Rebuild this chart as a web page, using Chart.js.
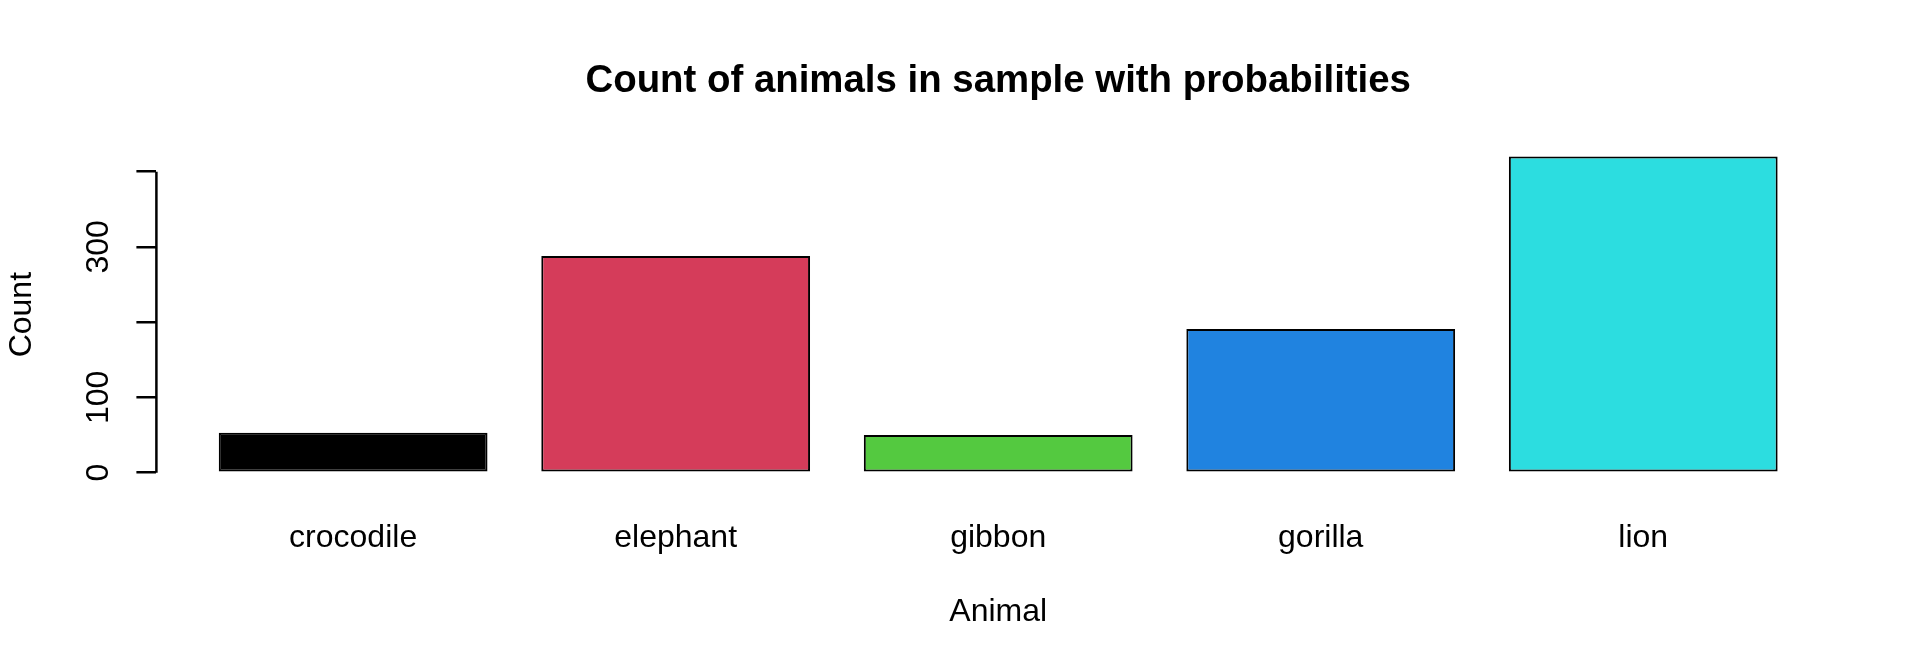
<!DOCTYPE html>
<html>
<head>
<meta charset="utf-8">
<script src="https://cdn.jsdelivr.net/npm/chart.js@4/dist/chart.umd.min.js"></script>
<style>
html,body{margin:0;padding:0;background:#ffffff;overflow:hidden}
canvas{display:block}
</style>
</head>
<body>
<canvas id="c" width="1920" height="672"></canvas>
<script>
// ---- data ----
const categories = ['crocodile', 'elephant', 'gibbon', 'gorilla', 'lion'];
const counts = [53, 288, 50, 191, 420];
const barColors = ['#000000', '#D53C5A', '#54C940', '#2083E0', '#2CDDE0'];
const yTicks = [0, 100, 200, 300, 400];
const yTickLabels = ['0', '100', '', '300', ''];
const titleText = 'Count of animals in sample with probabilities';
const xTitle = 'Animal';
const yTitle = 'Count';

// ---- R barplot geometry (width 1, space 0.2, 4% axis extension) ----
const barPos = categories.map((_, i) => 0.7 + 1.2 * i);
const xLo = 0.2, xHi = 1.2 * categories.length;
const xExt = 0.04 * (xHi - xLo);
const maxC = Math.max(...counts);

const FONT = "'Liberation Sans', Arial, Helvetica, sans-serif";

const axisLinePlugin = {
  id: 'rAxisLine',
  afterDraw(chart) {
    const ys = chart.scales.y;
    const ctx = chart.ctx;
    const x = chart.chartArea.left;
    ctx.save();
    ctx.strokeStyle = '#000';
    ctx.lineWidth = 2.5;
    ctx.beginPath();
    ctx.moveTo(x, ys.getPixelForValue(yTicks[0]));
    ctx.lineTo(x, ys.getPixelForValue(yTicks[yTicks.length - 1]));
    ctx.stroke();
    ctx.restore();
  }
};

new Chart(document.getElementById('c'), {
  type: 'bar',
  data: {
    datasets: [{
      data: counts.map((v, i) => ({ x: barPos[i], y: v })),
      backgroundColor: barColors,
      borderColor: '#000000',
      borderWidth: 2,
      borderSkipped: false,
      categoryPercentage: 1,
      barPercentage: 1 / 1.2
    }]
  },
  options: {
    responsive: false,
    animation: false,
    devicePixelRatio: 1,
    layout: { padding: { left: 0, right: 80, top: 0, bottom: 0 } },
    plugins: {
      legend: { display: false },
      tooltip: { enabled: false },
      title: {
        display: true,
        fullSize: false,
        text: titleText,
        color: '#000',
        font: { family: FONT, size: 38.4, weight: 'bold', lineHeight: 1.2 },
        padding: { top: 58.5, bottom: 39.4 }
      }
    },
    scales: {
      x: {
        type: 'linear',
        min: xLo - xExt,
        max: xHi + xExt,
        offset: false,
        afterBuildTicks: (s) => { s.ticks = barPos.map(v => ({ value: v })); },
        afterFit: (s) => { s.height = 186.7; },
        grid: { display: false },
        border: { display: false },
        ticks: {
          autoSkip: false,
          maxRotation: 0,
          minRotation: 0,
          padding: 25.5,
          color: '#000',
          font: { family: FONT, size: 32 },
          callback: (v, i) => categories[i]
        },
        title: {
          display: true,
          text: xTitle,
          color: '#000',
          font: { family: FONT, size: 32, lineHeight: 1.2 },
          padding: { top: 0, bottom: 40.3 }
        }
      },
      y: {
        type: 'linear',
        min: -0.04 * maxC,
        max: 1.04 * maxC,
        afterBuildTicks: (s) => { s.ticks = yTicks.map(v => ({ value: v })); },
        afterFit: (s) => { s.width = 156.4; },
        grid: {
          display: true,
          drawOnChartArea: false,
          drawTicks: true,
          tickLength: 20,
          color: '#000',
          lineWidth: 2.5
        },
        border: { display: false },
        ticks: {
          autoSkip: false,
          minRotation: 90,
          maxRotation: 90,
          crossAlign: 'center',
          padding: 10.7,
          color: '#000',
          font: { family: FONT, size: 32 },
          callback: (v, i) => yTickLabels[i]
        },
        title: {
          display: true,
          text: yTitle,
          color: '#000',
          font: { family: FONT, size: 32, lineHeight: 1.2 },
          padding: { top: 3.3, bottom: 0 }
        }
      }
    }
  },
  plugins: [axisLinePlugin]
});
</script>
</body>
</html>
